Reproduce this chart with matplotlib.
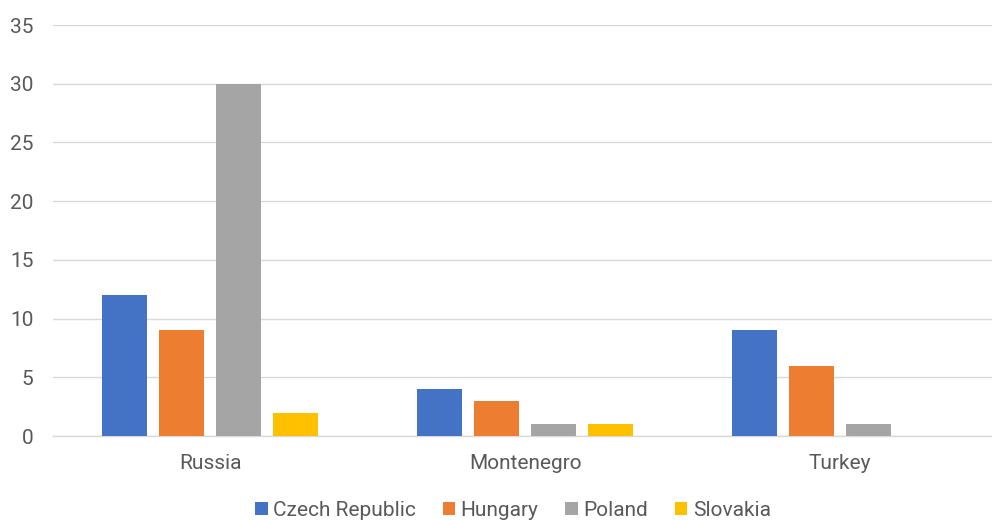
import numpy as np
import matplotlib.pyplot as plt

plt.rcParams["font.family"] = ["Roboto", "DejaVu Sans"]

countries = ["Russia", "Montenegro", "Turkey"]
series_names = ["Czech Republic", "Hungary", "Poland", "Slovakia"]
czech = [12, 4, 9]
hungary = [9, 3, 6]
poland = [30, 1, 1]
slovakia = [2, 1, 0]
colors = ["#4472C4", "#ED7D31", "#A5A5A5", "#FFC000"]

values = [czech, hungary, poland, slovakia]

fig = plt.figure(figsize=(9.92, 5.2), dpi=100)
ax = fig.add_axes([0.0534, 0.1615, 0.952, 0.7904])

x = np.arange(len(countries))
width = 0.143
step = 0.181
for i, (name, vals, c) in enumerate(zip(series_names, values, colors)):
    offset = (i - 1.5) * step
    ax.bar(x + offset, vals, width, color=c, label=name, zorder=3)

ax.set_xlim(-0.5, 2.5)
ax.set_ylim(0, 35)
ax.set_yticks(range(0, 36, 5))
ax.set_xticks(x)
ax.set_xticklabels(countries)
ax.yaxis.grid(True, color="#D9D9D9", linewidth=1.0, zorder=0)
for side in ["top", "right", "left"]:
    ax.spines[side].set_visible(False)
ax.spines["bottom"].set_color("#D9D9D9")
ax.spines["bottom"].set_linewidth(1.0)
ax.tick_params(axis="both", length=0, labelsize=15, colors="#595959")
ax.tick_params(axis="y", pad=14)
ax.tick_params(axis="x", pad=13)

fig.legend(loc="center", bbox_to_anchor=(0.517, 0.018), ncol=4,
           frameon=False, fontsize=15, labelcolor="#595959",
           handlelength=0.6, handleheight=0.6, handletextpad=0.25,
           columnspacing=1.3, borderpad=0)

fig.savefig("out.png", dpi=100)
